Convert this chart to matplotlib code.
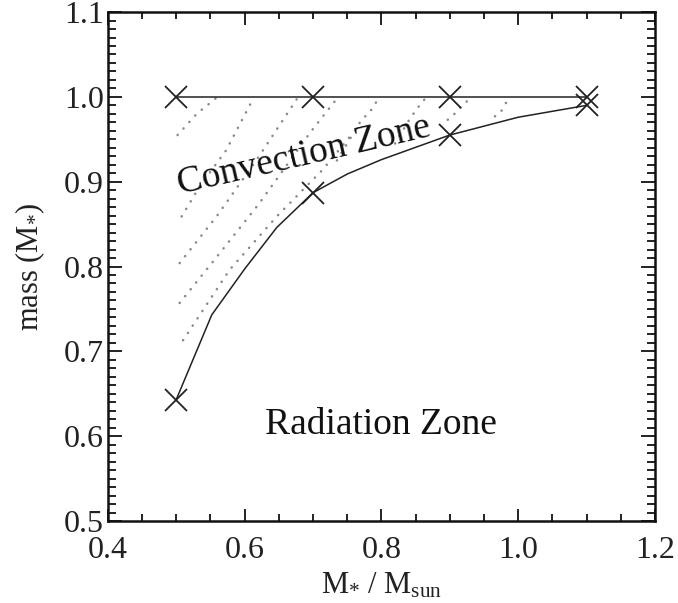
import matplotlib.pyplot as plt
from matplotlib.ticker import MultipleLocator

plt.rcParams['font.family'] = ['Liberation Serif', 'DejaVu Serif']
plt.rcParams['mathtext.fontset'] = 'custom'
plt.rcParams['mathtext.rm'] = 'Liberation Serif'
plt.rcParams['mathtext.it'] = 'Liberation Serif'

# stellar masses of the models
star_mass = [0.5, 0.7, 0.9, 1.1]
# surface and base of the convective envelope (in units of M*)
surface = [1.0, 1.0, 1.0, 1.0]
cz_base = [0.643, 0.887, 0.955, 0.990]

# smooth curve for the base of the convection zone
base_x = [0.5, 0.552, 0.6, 0.647, 0.7, 0.75, 0.8, 0.9, 1.0, 1.1]
base_y = [0.643, 0.743, 0.797, 0.846, 0.887, 0.909, 0.926, 0.955, 0.976, 0.990]

# dotted hatching inside the convection zone
hatch_lines = [
    ([0.502, 0.530, 0.559], [0.955, 0.980, 0.999]),
    ([0.508, 0.534, 0.573, 0.612], [0.859, 0.894, 0.937, 0.997]),
    ([0.505, 0.559, 0.617, 0.676], [0.804, 0.859, 0.925, 0.997]),
    ([0.505, 0.559, 0.622, 0.695, 0.734], [0.757, 0.811, 0.875, 0.957, 0.997]),
    ([0.510, 0.578, 0.647, 0.714, 0.754], [0.713, 0.796, 0.859, 0.914, 0.953]),
    ([0.735, 0.771, 0.783, 0.795], [0.925, 0.973, 0.982, 0.997]),
    ([0.820, 0.840, 0.851, 0.863], [0.945, 0.972, 0.985, 0.997]),
    ([0.897, 0.907, 0.929], [0.973, 0.980, 0.998]),
    ([0.966, 0.976, 0.985], [0.977, 0.984, 0.997]),
]

fig = plt.figure(figsize=(6.78, 6.03), dpi=100)
ax = fig.add_axes([0.159, 0.136, 0.807, 0.844])

for hx, hy in hatch_lines:
    ax.plot(hx, hy, color='#8a8a8a', lw=1.8, linestyle=(0, (0.1, 3.4)),
            dash_capstyle='round')

ax.plot(star_mass, surface, color='#222222', lw=1.1)
ax.plot(base_x, base_y, color='#222222', lw=1.1)
ax.plot(star_mass, surface, 'x', color='#222222', ms=16, mew=1.3)
ax.plot(star_mass, cz_base, 'x', color='#222222', ms=16, mew=1.3)

ax.text(0.687, 0.930, 'Convection Zone', fontsize=27, rotation=13,
        rotation_mode='anchor', ha='center', va='center', color='#111111')
ax.text(0.80, 0.613, 'Radiation Zone', fontsize=27, ha='center', va='center',
        color='#111111')

ax.set_xlim(0.4, 1.2)
ax.set_ylim(0.5, 1.1)
ax.xaxis.set_major_locator(MultipleLocator(0.2))
ax.xaxis.set_minor_locator(MultipleLocator(0.05))
ax.yaxis.set_major_locator(MultipleLocator(0.1))
ax.yaxis.set_minor_locator(MultipleLocator(0.01))
ax.xaxis.set_major_formatter(lambda v, p: f'{v:.1f}')
ax.yaxis.set_major_formatter(lambda v, p: f'{v:.1f}')

ax.tick_params(which='both', direction='in', top=True, right=True,
               color='#111111', width=1.3, labelsize=23, labelcolor='#222222')
ax.tick_params(axis='x', which='major', length=9, pad=11)
ax.tick_params(axis='x', which='minor', length=5)
ax.tick_params(axis='y', which='major', length=10, pad=3)
ax.tick_params(axis='y', which='minor', length=6)
for s in ax.spines.values():
    s.set_linewidth(1.8)
    s.set_color('#111111')

ax.set_xlabel(r'M$_{*}$ / M$_{\mathrm{sun}}$', fontsize=22, labelpad=4,
              color='#222222')
ax.set_ylabel(r'mass (M$_{*}$)', fontsize=22, labelpad=12, color='#222222')

fig.savefig('out.png', dpi=100)
